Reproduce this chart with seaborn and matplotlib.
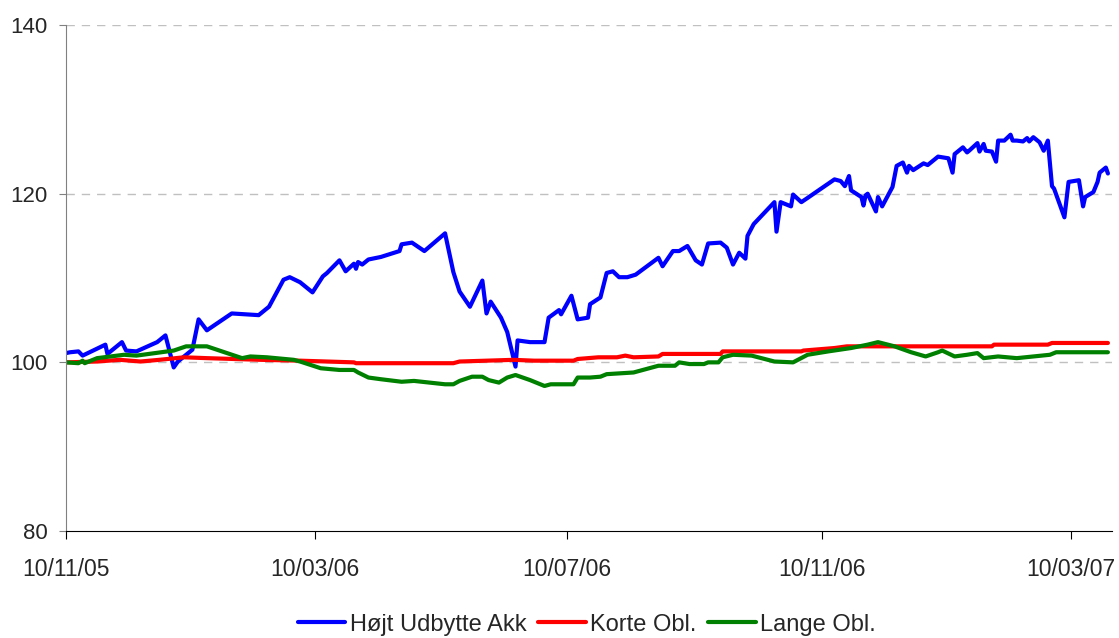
import pandas as pd
import numpy as np
import matplotlib.pyplot as plt
import matplotlib.dates as mdates
import seaborn as sns

# start date of the series, values indexed by days since start
start = pd.Timestamp("2005-11-10")

hoejt_days = [0, 2, 6, 8, 19, 20, 27, 29, 34, 44, 48, 52, 54, 61, 64, 68, 80, 93, 98, 105,
              108, 113, 119, 124, 126, 132, 135, 139, 140, 141, 143, 146, 152, 161, 162, 167,
              173, 183, 187, 190, 195, 201, 203, 205, 210, 213, 217, 218, 224, 231, 233, 238,
              239, 244, 247, 252, 253, 258, 261, 264, 267, 271, 275, 286, 288, 293, 296, 300,
              304, 307, 310, 316, 319, 322, 325, 328, 329, 332, 342, 343, 345, 350, 351, 355,
              358, 371, 374, 376, 378, 379, 384, 385, 386, 387, 391, 392, 394, 399, 401, 404,
              406, 407, 409, 414, 416, 421, 426, 428, 429, 433, 435, 436, 440, 441, 443, 444,
              447, 449, 450, 453, 456, 457, 459, 462, 464, 465, 467, 470, 472, 474, 476, 477,
              482, 484, 489, 491, 492, 496, 498, 499, 502, 503]
hoejt_vals = [101.1, 101.2, 101.3, 100.8, 102.1, 101.0, 102.4, 101.4, 101.3, 102.4, 103.2, 99.4,
              100.1, 101.5, 105.1, 103.8, 105.8, 105.6, 106.6, 109.8, 110.1, 109.5, 108.3, 110.2,
              110.6, 112.1, 110.8, 111.7, 111.1, 111.9, 111.6, 112.2, 112.5, 113.2, 114.0, 114.2,
              113.2, 115.3, 110.7, 108.4, 106.6, 109.7, 105.8, 107.2, 105.3, 103.6, 99.5, 102.6,
              102.4, 102.4, 105.3, 106.2, 105.7, 107.9, 105.1, 105.3, 106.9, 107.7, 110.6, 110.8,
              110.1, 110.1, 110.4, 112.4, 111.4, 113.2, 113.2, 113.8, 112.1, 111.6, 114.1, 114.2,
              113.6, 111.6, 113.0, 112.3, 115.0, 116.4, 119.0, 115.5, 119.0, 118.5, 119.9, 119.0,
              119.5, 121.7, 121.5, 120.9, 122.1, 120.4, 119.6, 118.6, 119.8, 120.0, 117.9, 119.6,
              118.5, 120.8, 123.3, 123.7, 122.5, 123.3, 122.8, 123.6, 123.4, 124.4, 124.2, 122.5,
              124.7, 125.5, 124.9, 125.1, 126.0, 125.0, 125.9, 125.1, 125.0, 123.8, 126.3, 126.3,
              127.0, 126.3, 126.3, 126.2, 126.6, 126.2, 126.7, 126.1, 125.1, 126.3, 120.9, 120.6,
              117.2, 121.4, 121.6, 118.5, 119.6, 120.2, 121.4, 122.5, 123.1, 122.4]

korte_days = [0, 15, 26, 36, 45, 57, 68, 94, 113, 139, 140, 187, 190, 216, 226, 245, 247, 257,
              266, 270, 274, 286, 288, 316, 317, 355, 356, 371, 377, 390, 447, 448, 474, 476, 503]
korte_vals = [100.0, 100.1, 100.3, 100.1, 100.3, 100.6, 100.5, 100.3, 100.2, 100.0, 99.9, 99.9,
              100.1, 100.3, 100.2, 100.2, 100.4, 100.6, 100.6, 100.8, 100.6, 100.7, 101.0, 101.0,
              101.3, 101.3, 101.4, 101.7, 101.9, 101.9, 101.9, 102.1, 102.1, 102.3, 102.3]

lange_days = [0, 6, 8, 9, 15, 28, 34, 43, 52, 58, 68, 85, 89, 97, 110, 113, 123, 132, 139, 141,
              146, 152, 162, 168, 183, 187, 190, 196, 201, 204, 209, 213, 217, 224, 231, 234,
              245, 247, 253, 258, 261, 274, 286, 294, 296, 301, 308, 310, 315, 317, 322, 331,
              342, 351, 358, 368, 379, 387, 392, 400, 408, 415, 421, 423, 429, 435, 440, 443,
              450, 459, 471, 475, 478, 503]
lange_vals = [100.0, 99.9, 100.2, 99.9, 100.5, 100.9, 100.8, 101.1, 101.4, 101.9, 101.9, 100.5,
              100.7, 100.6, 100.3, 100.1, 99.3, 99.1, 99.1, 98.8, 98.2, 98.0, 97.7, 97.8, 97.4,
              97.4, 97.8, 98.3, 98.3, 97.9, 97.6, 98.2, 98.5, 97.9, 97.2, 97.4, 97.4, 98.2, 98.2,
              98.3, 98.6, 98.8, 99.6, 99.6, 100.0, 99.8, 99.8, 100.0, 100.0, 100.6, 100.9, 100.8,
              100.1, 100.0, 100.9, 101.3, 101.7, 102.1, 102.4, 101.9, 101.2, 100.7, 101.2, 101.4,
              100.7, 100.9, 101.1, 100.5, 100.7, 100.5, 100.8, 100.9, 101.2, 101.2]

series_names = ["Højt Udbytte Akk", "Korte Obl.", "Lange Obl."]
colors = ["#0000FF", "#FF0000", "#008000"]
tick_dates = ["2005-11-10", "2006-03-10", "2006-07-10", "2006-11-10", "2007-03-10"]

frames = []
for name, days, vals in zip(series_names, [hoejt_days, korte_days, lange_days],
                            [hoejt_vals, korte_vals, lange_vals]):
    frames.append(pd.DataFrame({
        "Dato": start + pd.to_timedelta(days, unit="D"),
        "Værdi": vals,
        "Serie": name,
    }))
df = pd.concat(frames, ignore_index=True)

sns.set_style("white")
plt.rcParams["font.family"] = ["Liberation Sans", "DejaVu Sans"]

fig = plt.figure(figsize=(11.19, 6.38), dpi=100)
ax = fig.add_axes([0.059, 0.1677, 0.9348, 0.793])

sns.lineplot(data=df, x="Dato", y="Værdi", hue="Serie", hue_order=series_names,
             palette=colors, linewidth=3, estimator=None, sort=False, ax=ax)

ax.set_xlim(start, start + pd.Timedelta(days=505))
ax.set_ylim(80, 140)
ax.set_yticks([80, 100, 120, 140])
ax.set_xticks(pd.to_datetime(tick_dates))
ax.xaxis.set_major_formatter(mdates.DateFormatter("%d/%m/%y"))
ax.set_xlabel("")
ax.set_ylabel("")

for y in [100, 120, 140]:
    ax.axhline(y, color="#c0c0c0", linestyle=(0, (6, 5)), linewidth=1, zorder=0)

for side in ["top", "right"]:
    ax.spines[side].set_visible(False)
ax.spines["left"].set_color("#808080")
ax.spines["bottom"].set_color("black")
ax.tick_params(axis="y", direction="out", length=5, color="#808080", labelsize=16, pad=8,
               left=True)
ax.tick_params(axis="x", direction="out", length=6, color="black", labelsize=16.5, pad=13.5,
               bottom=True)

ax.legend(loc="center", bbox_to_anchor=(0.5246, 0.021), bbox_transform=fig.transFigure,
          ncol=3, frameon=False, fontsize=17, handlelength=2.0, handletextpad=0.2,
          columnspacing=0.5, borderpad=0)

fig.savefig("out.png", dpi=100)
